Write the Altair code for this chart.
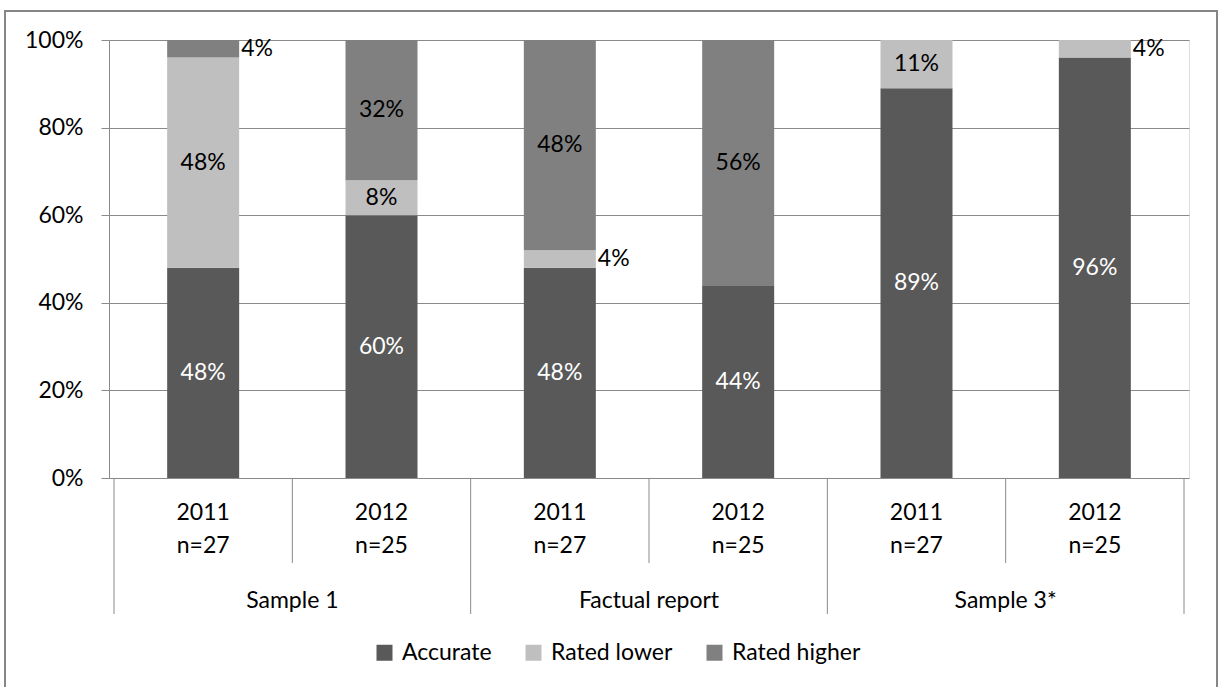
import altair as alt
import pandas as pd

groups = ["Sample 1", "Factual report", "Sample 3*"]
years = ["2011", "2012", "2011", "2012", "2011", "2012"]
ns = ["n=27", "n=25", "n=27", "n=25", "n=27", "n=25"]
series = ["Accurate", "Rated lower", "Rated higher"]
accurate = [48, 60, 48, 44, 89, 96]
rated_lower = [48, 8, 4, 0, 11, 4]
rated_higher = [4, 32, 48, 56, 0, 0]
colors = ["#595959", "#bfbfbf", "#808080"]
FONT = "Lato"
FS = 23

rows = []
for i in range(len(years)):
    base = 0
    for s, vals in zip(series, [accurate, rated_lower, rated_higher]):
        v = vals[i]
        if v > 0:
            rows.append(dict(
                pos=i + 0.5, series=s,
                y0=base / 100, y1=(base + v) / 100, mid=(base + v / 2) / 100,
                label=f"{v}%", outside=(v <= 4 and s != "Accurate"),
                tcolor="#ffffff" if s == "Accurate" else "#000000",
            ))
        base += v
df = pd.DataFrame(rows)

xs = alt.X("pos:Q", scale=alt.Scale(domain=[0, 6], nice=False, zero=False), axis=None)

bars = alt.Chart(df).mark_bar(size=72).encode(
    x=xs,
    y=alt.Y("y0:Q", scale=alt.Scale(domain=[0, 1], nice=False),
            axis=alt.Axis(format=".0%", values=[0, 0.2, 0.4, 0.6, 0.8, 1.0],
                          grid=True, gridColor="#8a8a8a", gridWidth=1,
                          domainColor="#8a8a8a", tickColor="#8a8a8a", tickSize=8,
                          labelFontSize=FS, labelColor="#000000", labelPadding=18,
                          labelFont=FONT, title=None)),
    y2="y1:Q",
    color=alt.Color("series:N", scale=alt.Scale(domain=series, range=colors),
                    legend=alt.Legend(orient="none", legendX=264, legendY=601,
                                      direction="horizontal", title=None,
                                      symbolType="square", symbolSize=256,
                                      symbolStrokeWidth=0, labelFontSize=FS,
                                      labelFont=FONT, labelColor="#000000",
                                      columnPadding=30, labelOffset=6, padding=0)),
)

inside = alt.Chart(df).transform_filter("!datum.outside").mark_text(
    fontSize=FS, font=FONT, baseline="middle"
).encode(x=xs, y=alt.Y("mid:Q"), text="label:N", color=alt.Color("tcolor:N", scale=None))

outside = alt.Chart(df).transform_filter("datum.outside").mark_text(
    fontSize=FS, font=FONT, baseline="middle", align="left", dx=38, color="#000000"
).encode(x=xs, y=alt.Y("mid:Q"), text="label:N")

cat_df = pd.DataFrame({"pos": [i + 0.5 for i in range(6)], "year": years, "n": ns})
year_txt = alt.Chart(cat_df).mark_text(fontSize=FS, font=FONT, color="#000000").encode(
    x=xs, y=alt.value(473), text="year:N")
n_txt = alt.Chart(cat_df).mark_text(fontSize=FS, font=FONT, color="#000000").encode(
    x=xs, y=alt.value(506), text="n:N")

grp_df = pd.DataFrame({"pos": [1, 3, 5], "group": groups})
grp_txt = alt.Chart(grp_df).mark_text(fontSize=FS, font=FONT, color="#000000").encode(
    x=xs, y=alt.value(561), text="group:N")

ysep = pd.DataFrame({"pos": [1, 3, 5]})
gsep = pd.DataFrame({"pos": [0, 2, 4, 6]})
ysep_r = alt.Chart(ysep).mark_rule(color="#8a8a8a", strokeWidth=1).encode(
    x=xs, y=alt.value(438), y2=alt.value(523))
gsep_r = alt.Chart(gsep).mark_rule(color="#8a8a8a", strokeWidth=1).encode(
    x=xs, y=alt.value(438), y2=alt.value(574))

frame = alt.Chart(pd.DataFrame({"a": [0]})).mark_rect(
    filled=False, stroke="#868686", strokeWidth=2
).encode(x=alt.value(-104), x2=alt.value(1108), y=alt.value(-29), y2=alt.value(660))

chart = alt.layer(frame, bars, inside, outside, ysep_r, gsep_r, year_txt, n_txt, grp_txt).properties(
    width=1080, height=438,
    padding={"left": 109, "top": 40, "right": 31, "bottom": 209},
    autosize="none",
    background="#ffffff",
).configure_view(stroke=None).configure(font=FONT)

chart.save("out.html", embed_options={"renderer": "svg", "actions": False})
